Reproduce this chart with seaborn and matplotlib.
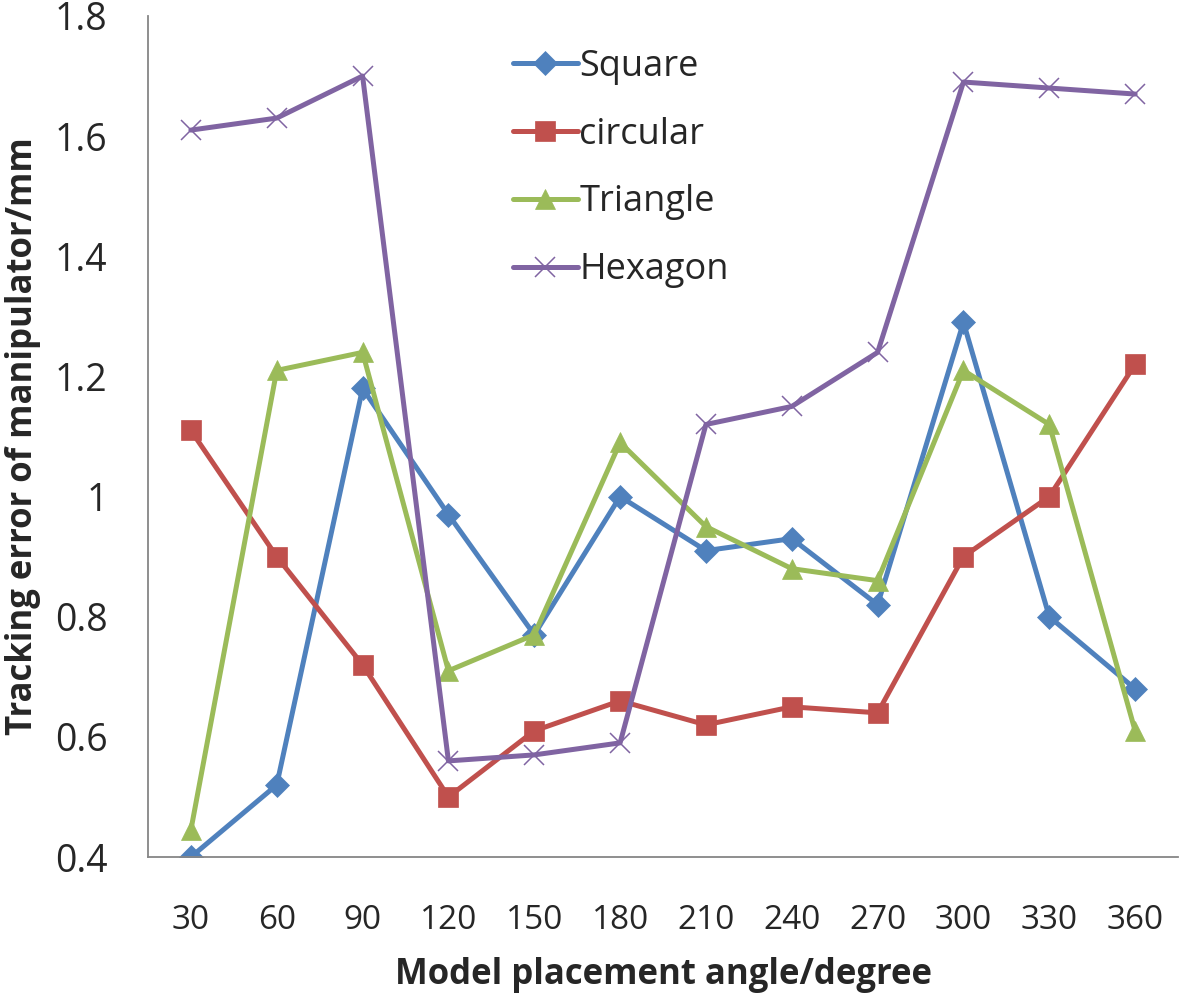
import matplotlib
matplotlib.use("Agg")
import matplotlib.pyplot as plt
import seaborn as sns
import pandas as pd

# categories / series
angles = ['30', '60', '90', '120', '150', '180', '210', '240', '270', '300', '330', '360']
square = [0.40, 0.52, 1.18, 0.97, 0.77, 1.00, 0.91, 0.93, 0.82, 1.29, 0.80, 0.68]
circular = [1.11, 0.90, 0.72, 0.50, 0.61, 0.66, 0.62, 0.65, 0.64, 0.90, 1.00, 1.22]
triangle = [0.445, 1.21, 1.24, 0.71, 0.77, 1.09, 0.95, 0.88, 0.86, 1.21, 1.12, 0.61]
hexagon = [1.61, 1.63, 1.70, 0.56, 0.57, 0.59, 1.12, 1.15, 1.24, 1.69, 1.68, 1.67]

names = ['Square', 'circular', 'Triangle', 'Hexagon']
colors = ['#4F81BD', '#C0504D', '#9BBB59', '#8064A2']
markers = ['D', 's', '^', 'x']
msizes = [12.5, 14, 14.5, 14]

sns.set_style("white")
plt.rcParams['font.family'] = ['Open Sans', 'DejaVu Sans']

fig = plt.figure(figsize=(11.81, 9.97), dpi=100)
ax = fig.add_axes([0.1253, 0.1404, 0.8722, 0.8436])

for n, vals, c, m, ms in zip(names, [square, circular, triangle, hexagon], colors, markers, msizes):
    d = pd.DataFrame({'angle': angles, 'error': vals})
    sns.lineplot(data=d, x='angle', y='error', color=c, marker=m, markersize=ms,
                 markeredgecolor=c, markerfacecolor=c,
                 markeredgewidth=1.1 if m == 'x' else 0.5,
                 linewidth=3.6, sort=False, label=n, ax=ax)

leg = ax.legend(frameon=False, loc='upper left', bbox_to_anchor=(0.34, 0.978),
                fontsize=26, handlelength=1.8, handletextpad=0.05,
                labelspacing=0.88, borderaxespad=0)

ax.set_xlim(-0.5, len(angles) - 0.5)
ax.set_ylim(0.4, 1.8)
ax.set_yticks([0.4, 0.6, 0.8, 1.0, 1.2, 1.4, 1.6, 1.8])
ax.set_yticklabels(['0.4', '0.6', '0.8', '1', '1.2', '1.4', '1.6', '1.8'])
ax.set_xticks(range(len(angles)))
ax.set_xticklabels(angles)
ax.set_xticks([i - 0.5 for i in range(len(angles) + 1)], minor=True)

ax.tick_params(axis='x', which='major', length=0, labelsize=24, pad=34)
ax.tick_params(axis='x', which='minor', length=13, direction='in',
               color='#868686', width=1.3)
ax.tick_params(axis='y', which='major', length=13, direction='in',
               color='#868686', width=1.3, labelsize=27, pad=29)

for s in ['top', 'right']:
    ax.spines[s].set_visible(False)
for s in ['left', 'bottom']:
    ax.spines[s].set_color('#868686')
    ax.spines[s].set_linewidth(1.3)

ax.set_xlabel('Model placement angle/degree', fontsize=25, fontweight='bold', labelpad=14)
ax.set_ylabel('Tracking error of manipulator/mm', fontsize=25, fontweight='bold', labelpad=10)

fig.savefig('out.png', dpi=100)
